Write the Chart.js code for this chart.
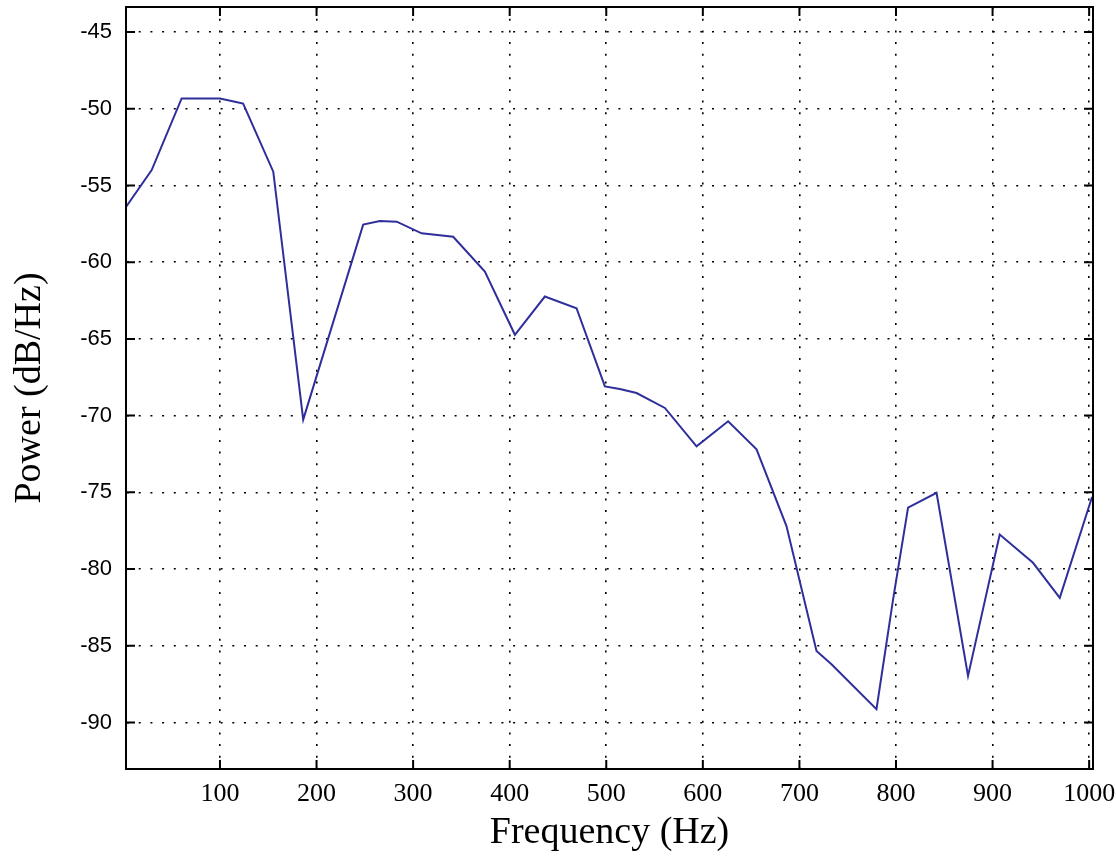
<!DOCTYPE html>
<html>
<head>
<meta charset="utf-8">
<script src="https://cdn.jsdelivr.net/npm/chart.js@4/dist/chart.umd.min.js"></script>
<style>
  html, body { margin: 0; padding: 0; background: #fff; }
  #wrap { width: 1116px; height: 860px; }
</style>
</head>
<body>
<div id="wrap"><canvas id="psdChart"></canvas></div>
<script>
// values
const freqHz = [2.7, 29.3, 60.3, 100, 115.5, 124, 155.2, 186.2, 248.3, 265.6, 283, 308.8,
  341.5, 374.3, 405.4, 436.4, 469.2, 498.6, 514, 531.4, 560.7, 593.5, 626.2, 655.6,
  686.6, 717.7, 733.2, 779.8, 797, 812.5, 842, 874.6, 907.4, 941.9, 969.6, 1003];
const powerDb = [-56.4, -54.0, -49.33, -49.33, -49.55, -49.66, -54.1, -70.26, -57.55, -57.32, -57.36, -58.12,
  -58.34, -60.61, -64.73, -62.24, -63.0, -68.1, -68.27, -68.53, -69.5, -72.0, -70.37, -72.2,
  -77.2, -85.34, -86.2, -89.13, -81.97, -76.0, -75.03, -86.96, -77.75, -79.59, -81.87, -75.3];

const xTicks = [100, 200, 300, 400, 500, 600, 700, 800, 900, 1000];
const yTicks = [-90, -85, -80, -75, -70, -65, -60, -55, -50, -45];

const xRange = [2.7, 1004];
const yRange = [-93.03, -43.37];

const points = freqHz.map((f, i) => ({ x: f, y: powerDb[i] }));

// black frame with MATLAB style inward tick marks
const framePlugin = {
    id: 'frame',
    afterDraw(chart) {
        const { ctx, chartArea: a, scales } = chart;
        const len = 9;
        ctx.save();
        ctx.strokeStyle = '#000';
        ctx.lineWidth = 2;
        ctx.strokeRect(a.left, a.top, a.right - a.left, a.bottom - a.top);
        ctx.beginPath();
        scales.x.ticks.forEach(t => {
            const px = scales.x.getPixelForValue(t.value);
            ctx.moveTo(px, a.bottom); ctx.lineTo(px, a.bottom - len);
            ctx.moveTo(px, a.top); ctx.lineTo(px, a.top + len);
        });
        scales.y.ticks.forEach(t => {
            const py = scales.y.getPixelForValue(t.value);
            ctx.moveTo(a.left, py); ctx.lineTo(a.left + len, py);
            ctx.moveTo(a.right, py); ctx.lineTo(a.right - len, py);
        });
        ctx.stroke();
        ctx.restore();
    }
};

const ctx = document.getElementById('psdChart').getContext('2d');
const psdChart = new Chart(ctx, {
    type: 'line',
    data: {
        datasets: [{
            label: 'Power',
            data: points,
            borderColor: '#2f2f9c',
            borderWidth: 2,
            pointRadius: 0,
            tension: 0,
            fill: false
        }]
    },
    options: {
        responsive: true,
        maintainAspectRatio: false,
        animation: false,
        layout: { padding: { left: 0, top: 7, right: 23, bottom: 0 } },
        plugins: {
            legend: { display: false },
            tooltip: { enabled: false }
        },
        scales: {
            x: {
                type: 'linear',
                min: xRange[0],
                max: xRange[1],
                afterFit: s => { s.height = 91; s.paddingLeft = 0; s.paddingRight = 0; },
                afterBuildTicks: s => { s.ticks = xTicks.map(v => ({ value: v })); },
                grid: { color: '#000', lineWidth: 1.6, drawTicks: false },
                border: { display: true, color: '#000', width: 2, dash: [2, 9.7] },
                ticks: {
                    maxRotation: 0,
                    autoSkip: false,
                    padding: 10,
                    color: '#000',
                    font: { family: 'Liberation Serif', size: 26 },
                    callback: v => String(v)
                },
                title: {
                    display: true,
                    text: 'Frequency (Hz)',
                    color: '#000',
                    font: { family: 'Liberation Serif', size: 38 },
                    padding: { top: 0, bottom: 4 }
                }
            },
            y: {
                type: 'linear',
                min: yRange[0],
                max: yRange[1],
                afterFit: s => { s.width = 126; s.paddingTop = 0; s.paddingBottom = 0; },
                afterBuildTicks: s => { s.ticks = yTicks.map(v => ({ value: v })); },
                grid: { color: '#000', lineWidth: 1.6, drawTicks: false },
                border: { display: true, color: '#000', width: 2, dash: [2, 9.7] },
                ticks: {
                    autoSkip: false,
                    padding: 14,
                    color: '#000',
                    font: { family: 'Liberation Sans', size: 22 },
                    callback: v => String(v)
                },
                title: {
                    display: true,
                    text: 'Power (dB/Hz)',
                    color: '#000',
                    font: { family: 'Liberation Serif', size: 38 },
                    padding: { top: 7, bottom: 0 }
                }
            }
        }
    },
    plugins: [framePlugin]
});
</script>
</body>
</html>
